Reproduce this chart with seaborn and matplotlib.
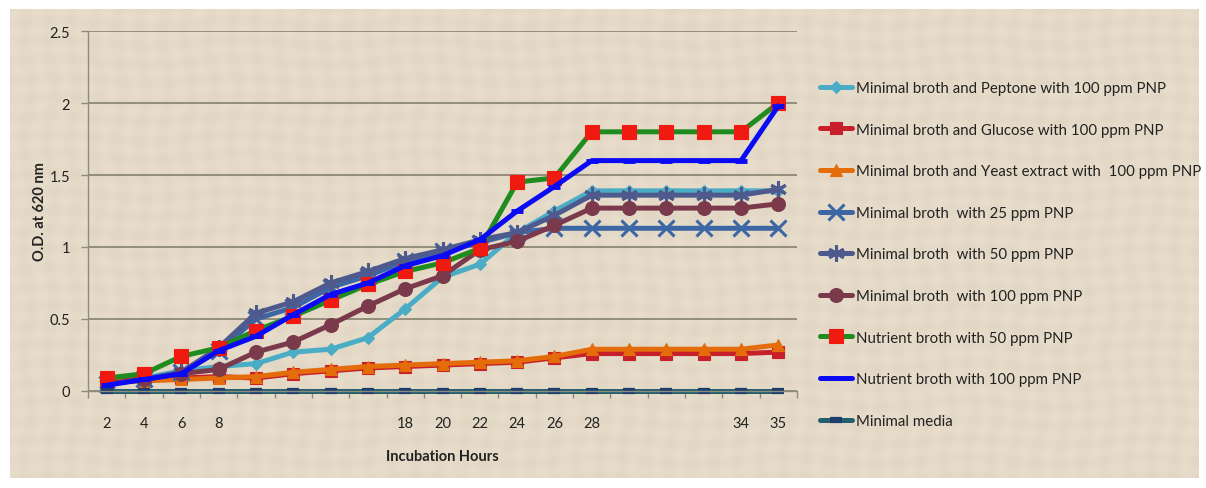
import matplotlib
matplotlib.use("Agg")
import matplotlib.pyplot as plt
from matplotlib.ticker import FixedLocator
import numpy as np
import pandas as pd
import seaborn as sns

# Incubation hours (blank labels are unlabeled sampling points)
hours = ["2", "4", "6", "8", "", "", "", "", "18", "20", "22", "24",
         "26", "28", "", "", "", "34", "35"]

# O.D. at 620 nm for each culture condition
peptone_100 = [0.05, 0.09, 0.14, 0.17, 0.19, 0.27, 0.29, 0.37, 0.57, 0.79,
               0.88, 1.10, 1.25, 1.39, 1.39, 1.39, 1.39, 1.39, 1.39]
glucose_100 = [0.08, 0.09, 0.09, 0.10, 0.09, 0.12, 0.14, 0.16, 0.17, 0.18,
               0.19, 0.20, 0.23, 0.26, 0.26, 0.26, 0.26, 0.26, 0.27]
yeast_100 = [0.06, 0.07, 0.08, 0.09, 0.10, 0.13, 0.15, 0.17, 0.18, 0.19,
             0.20, 0.21, 0.24, 0.29, 0.29, 0.29, 0.29, 0.29, 0.32]
minimal_25 = [0.05, 0.08, 0.13, 0.28, 0.50, 0.58, 0.72, 0.80, 0.90, 0.97,
              1.03, 1.10, 1.13, 1.13, 1.13, 1.13, 1.13, 1.13, 1.13]
minimal_50 = [0.05, 0.08, 0.13, 0.30, 0.54, 0.62, 0.75, 0.83, 0.92, 0.98,
              1.05, 1.10, 1.22, 1.36, 1.36, 1.36, 1.36, 1.36, 1.40]
minimal_100 = [0.05, 0.08, 0.12, 0.15, 0.27, 0.34, 0.46, 0.59, 0.71, 0.80,
               0.98, 1.04, 1.15, 1.27, 1.27, 1.27, 1.27, 1.27, 1.30]
nutrient_50 = [0.09, 0.12, 0.24, 0.30, 0.42, 0.52, 0.63, 0.74, 0.83, 0.89,
               0.99, 1.45, 1.48, 1.80, 1.80, 1.80, 1.80, 1.80, 2.00]
nutrient_100 = [0.04, 0.08, 0.12, 0.28, 0.38, 0.53, 0.67, 0.75, 0.87, 0.94,
                1.05, 1.25, 1.42, 1.60, 1.60, 1.60, 1.60, 1.60, 1.98]
minimal_media = [0.0, 0.0, 0.0, 0.0, 0.0, 0.0, 0.0, 0.0, 0.0, 0.0,
                 0.0, 0.0, 0.0, 0.0, 0.0, 0.0, 0.0, 0.0, 0.0]

series_names = [
    "Minimal broth and Peptone with 100 ppm PNP",
    "Minimal broth and Glucose with 100 ppm PNP",
    "Minimal broth and Yeast extract with  100 ppm PNP",
    "Minimal broth  with 25 ppm PNP",
    "Minimal broth  with 50 ppm PNP",
    "Minimal broth  with 100 ppm PNP",
    "Nutrient broth with 50 ppm PNP",
    "Nutrient broth with 100 ppm PNP",
    "Minimal media",
]
series_values = [peptone_100, glucose_100, yeast_100, minimal_25, minimal_50,
                 minimal_100, nutrient_50, nutrient_100, minimal_media]

# line colour, marker, marker face colour, marker size, marker edge width
styles = [
    ("#4BACC6", "D", "#4BACC6", 6, 0.8),
    ("#C8202A", "s", "#C8202A", 8, 0.8),
    ("#E46C0A", "^", "#E46C0A", 8, 0.8),
    ("#3C66A4", "x", "#3C66A4", 11, 2.2),
    ("#4E5A8E", (6, 2, 0), "#4E5A8E", 12, 2.2),
    ("#7B3A4C", "o", "#7B3A4C", 10, 0.8),
    ("#1E8C1E", "s", "#F01A10", 10, 0.8),
    ("#0A0AF5", "_", "#0A0AF5", 9, 3.5),
    ("#215E6E", "_", "#1F3D6A", 9, 4.5),
]

sns.set_theme(style="white")
plt.rcParams["font.family"] = ["Lato", "DejaVu Sans"]

W, H = 1206, 489
fig = plt.figure(figsize=(W / 100, H / 100), dpi=100, facecolor="white")

# linen-like canvas panel behind the chart
px0, py0, px1, py1 = 10, 10, 1199, 479
bg = fig.add_axes([px0 / W, 1 - py1 / H, (px1 - px0) / W, (py1 - py0) / H],
                  zorder=-10)
gx, gy = np.meshgrid(np.arange(px1 - px0), np.arange(py1 - py0))
weave = (0.5 * np.sin(2 * np.pi * gx / 3.2) * np.sin(2 * np.pi * gy / 3.4)
         + 0.35 * np.sin(2 * np.pi * gx / 23.0 + np.sin(gy / 17.0))
         + 0.35 * np.sin(2 * np.pi * gy / 19.0 + np.sin(gx / 29.0)))
base = np.array([228, 218, 199], dtype=float) / 255.0
tex = base[None, None, :] + (weave[..., None] * 5.0 / 255.0)
bg.imshow(np.clip(tex, 0, 1), aspect="auto", interpolation="nearest")
bg.set_axis_off()

ax = fig.add_axes([88 / W, 1 - 392 / H, (797 - 88) / W, (392 - 32) / H])
ax.set_facecolor("none")

x = np.arange(len(hours))
for name, vals, (col, mk, mfc, ms, mew) in zip(series_names, series_values,
                                               styles):
    df = pd.DataFrame({"idx": x, "od": vals})
    sns.lineplot(data=df, x="idx", y="od", ax=ax, color=col, linewidth=3.6,
                 marker=mk, markersize=ms, markerfacecolor=mfc,
                 markeredgecolor=mfc, markeredgewidth=mew, label=name,
                 clip_on=False)

ax.set_xlim(-0.5, len(hours) - 0.5)
ax.set_ylim(0, 2.5)
ax.set_yticks([0, 0.5, 1, 1.5, 2, 2.5])
ax.set_yticklabels(["0", "0.5", "1", "1.5", "2", "2.5"])
ax.set_xticks(x)
ax.set_xticklabels(hours)
ax.xaxis.set_minor_locator(FixedLocator(np.arange(-0.5, len(hours), 1.0)))

ax.grid(axis="y", color="#85806F", linewidth=1.2)
ax.set_axisbelow(True)
for side in ("top", "right"):
    ax.spines[side].set_visible(False)
for side in ("left", "bottom"):
    ax.spines[side].set_color("#8E8A7C")
    ax.spines[side].set_linewidth(1.0)

ax.tick_params(axis="y", which="major", direction="out", length=5, width=1,
               color="#8E8A7C", pad=8, labelsize=10.5, labelcolor="#222222",
               left=True)
ax.tick_params(axis="x", which="major", length=0, pad=18, labelsize=10.5,
               labelcolor="#222222", bottom=True)
ax.tick_params(axis="x", which="minor", direction="out", length=5, width=1,
               color="#8E8A7C", bottom=True)

ax.set_xlabel("Incubation Hours", fontsize=10.5, fontweight="bold",
              color="#222222", labelpad=14)
ax.set_ylabel("O.D. at 620 nm", fontsize=10.5, fontweight="bold",
              color="#222222", labelpad=2)

handles, labels = ax.get_legend_handles_labels()
ax.get_legend().remove()
fig.legend(handles, labels, loc="upper left",
           bbox_to_anchor=(820 / W, 1 - 82 / H), frameon=False,
           fontsize=10.8, labelspacing=1.84, handlelength=2.1,
           handletextpad=0.3, borderpad=0, borderaxespad=0,
           labelcolor="#222222")

fig.savefig("out.png", dpi=100, facecolor="white")
